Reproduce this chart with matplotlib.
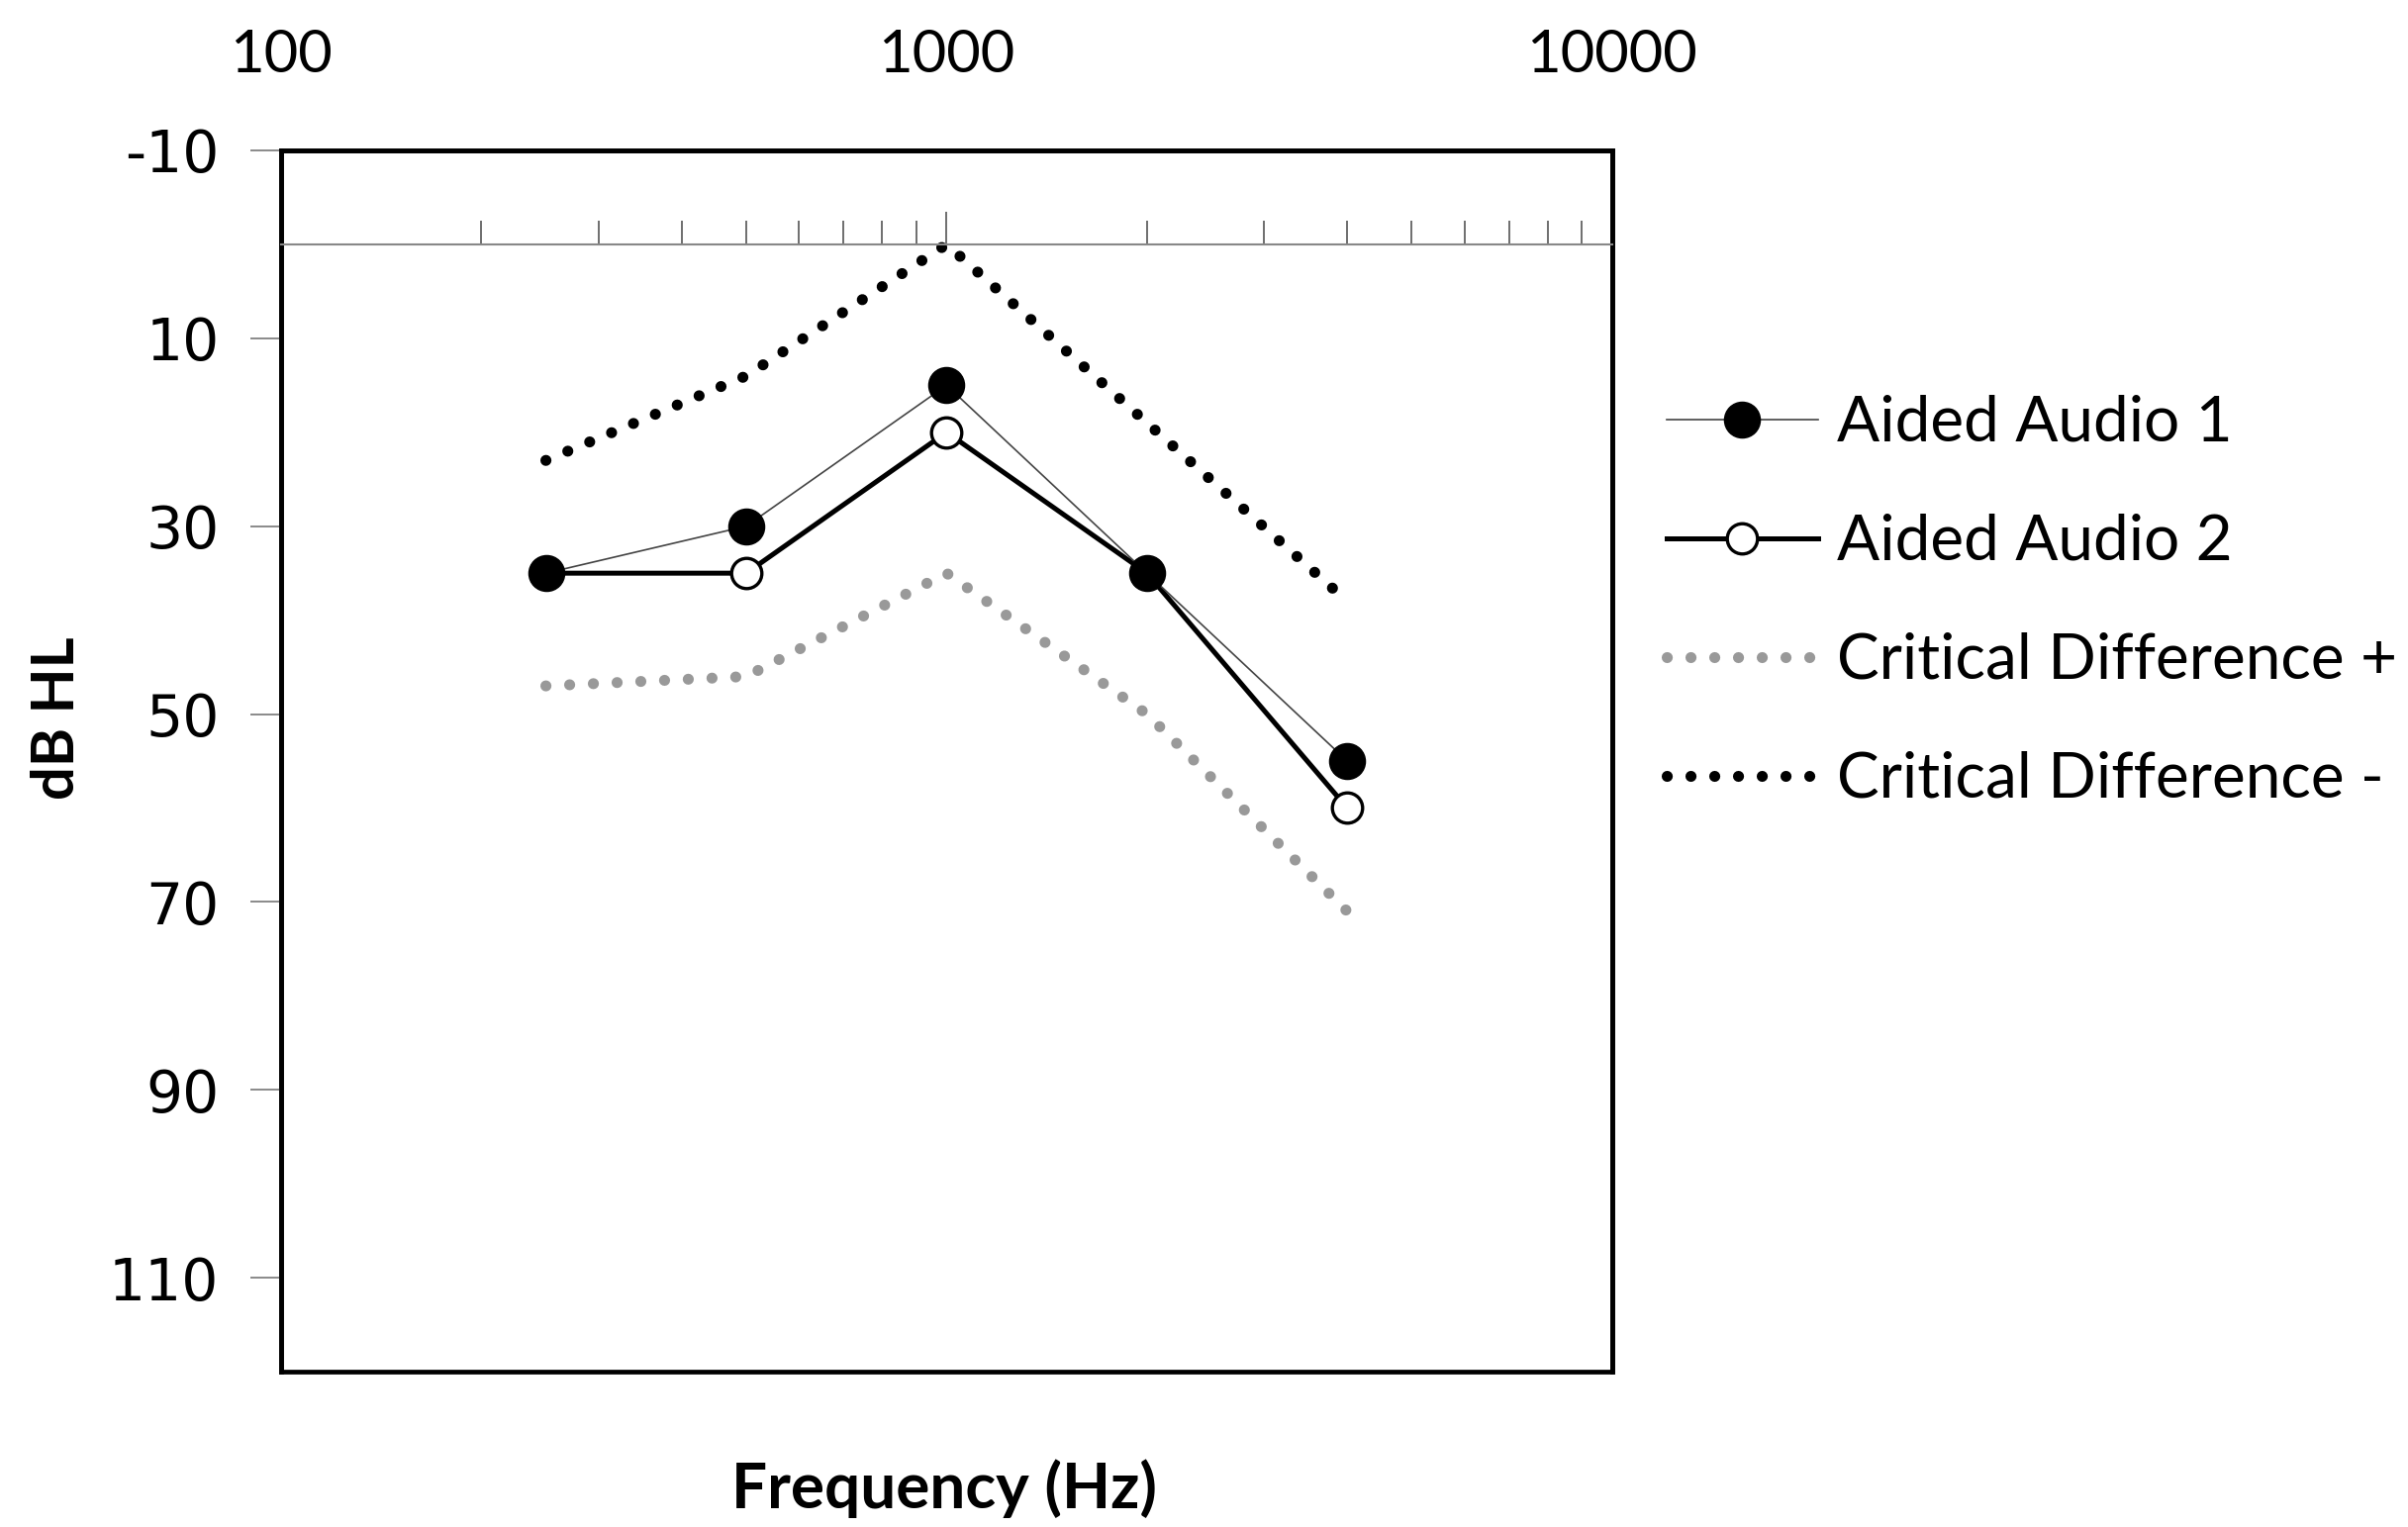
import matplotlib
matplotlib.use("Agg")
import matplotlib.pyplot as plt
from matplotlib.ticker import FixedLocator, NullLocator, NullFormatter, LogLocator

freqs = [250, 500, 1000, 2000, 4000]
aided_1 = [35, 30, 15, 35, 55]
aided_2 = [35, 35, 20, 35, 60]
crit_plus = [47, 46, 35, 50, 71]
crit_minus = [23, 14, 0, 19, 38]

y_ticks = [-10, 10, 30, 50, 70, 90, 110]
x_labels = [100, 1000, 10000]

label_font = "Lato"

fig = plt.figure(figsize=(24.33, 15.43), dpi=100)
ax = fig.add_axes([0.1167, 0.1017, 0.5528, 0.7998])

ax.set_xscale("log")
ax.set_xlim(100, 10000)
ax.set_ylim(120, -10)

ax.plot(freqs, crit_plus, color="#999999", lw=8, dashes=(0.01, 2.15),
        dash_capstyle="round", label="Critical Difference +", zorder=2)
ax.plot(freqs, crit_minus, color="black", lw=8, dashes=(0.01, 2.15),
        dash_capstyle="round", label="Critical Difference -", zorder=2)
ax.plot(freqs, aided_2, color="black", lw=3.6, marker="o", ms=22,
        mfc="white", mec="black", mew=2.4, label="Aided Audio 2", zorder=3)
ax.plot(freqs, aided_1, color="#444444", lw=1.2, marker="o", ms=26,
        mfc="black", mec="black", label="Aided Audio 1", zorder=4)

# x axis sits on the 0 dB line, ticks pointing up, labels shown on top
ax.spines["bottom"].set_position(("data", 0))
ax.spines["bottom"].set_color("#888888")
ax.spines["bottom"].set_linewidth(1.5)
ax.xaxis.set_major_locator(FixedLocator(x_labels))
ax.xaxis.set_minor_locator(LogLocator(base=10, subs=range(2, 10)))
ax.xaxis.set_minor_formatter(NullFormatter())
ax.tick_params(axis="x", which="major", direction="in", length=24, width=1.2,
               color="#555555", labelbottom=False)
ax.tick_params(axis="x", which="minor", direction="in", length=17, width=1.2,
               color="#555555")

for side in ["top", "left", "right"]:
    ax.spines[side].set_linewidth(3.4)
    ax.spines[side].set_color("black")
ax.patch.set_edgecolor("black")
ax.patch.set_linewidth(3.4)

ax.set_yticks(y_ticks)
ax.set_yticklabels([str(v) for v in y_ticks], fontfamily="DejaVu Sans", fontsize=42)
ax.tick_params(axis="y", which="major", direction="out", length=22, width=1.2,
               color="#777777", pad=23)
ax.yaxis.set_minor_locator(NullLocator())

top = ax.secondary_xaxis("top")
top.xaxis.set_major_locator(FixedLocator(x_labels))
top.xaxis.set_minor_locator(NullLocator())
top.set_xticklabels([str(v) for v in x_labels], fontfamily=label_font, fontsize=43)
top.tick_params(length=0, pad=50)
top.spines["top"].set_visible(False)

fig.text(0.024, 0.530, "dB HL", rotation=90, ha="center", va="center",
         fontfamily=label_font, fontweight="bold", fontsize=43)
fig.text(0.392, 0.025, "Frequency (Hz)", ha="center", va="center",
         fontfamily=label_font, fontweight="bold", fontsize=46)

handles, labels = ax.get_legend_handles_labels()
order = [3, 2, 0, 1]
ax.legend([handles[i] for i in order], [labels[i] for i in order],
          loc="center left", bbox_to_anchor=(0.692, 0.606),
          bbox_transform=fig.transFigure, frameon=False,
          prop={"family": label_font, "size": 46},
          handlelength=2.4, handletextpad=0.3, labelspacing=0.97,
          borderpad=0, borderaxespad=0)

fig.savefig("out.png", dpi=100)
